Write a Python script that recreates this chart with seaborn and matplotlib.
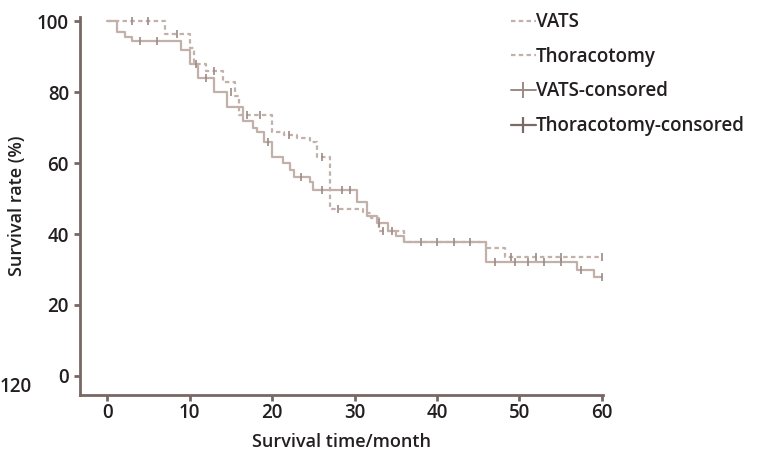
import numpy as np
import pandas as pd
import matplotlib
matplotlib.use("Agg")
import matplotlib.pyplot as plt
import seaborn as sns
from matplotlib.lines import Line2D

# ---- data ----
vats_time = [0, 7, 10, 10.5, 12, 14, 15.5, 16, 20, 21.5, 23, 24.6, 25.5, 27, 31, 32, 33, 36, 46, 48.2, 60]
vats_surv = [100, 96.5, 92.5, 88, 86, 83, 79, 73.5, 68.7, 68, 67, 66, 61.7, 47, 46, 44.5, 41, 37.7, 36, 33.5, 33.5]
thor_time = [0, 1.2, 2.2, 3, 9, 10, 11, 13, 14.5, 16.5, 17.7, 18.2, 19, 20, 21.3, 22.2, 22.6, 24.6, 25, 30.3, 31.5, 32.7, 34, 35, 36, 46, 57, 59, 60]
thor_surv = [100, 97, 95.5, 94.5, 92, 88, 84, 80, 76, 72, 70, 68.7, 66, 61.7, 60, 58, 56, 54.6, 52.5, 49, 45, 43, 41, 39.5, 37.7, 32, 30, 28, 28]
vats_cens_time = [3, 5, 8.5, 13, 17, 18.5, 22, 26, 28, 33.5, 34.5, 40, 44, 49, 52, 55, 60]
vats_cens_surv = [100, 100, 96.5, 86, 73.5, 73.5, 68, 61.7, 47, 41, 41, 37.7, 37.7, 33.5, 33.5, 33.5, 33.5]
thor_cens_time = [4, 6, 10.8, 12, 15, 19.5, 23.5, 26, 28.5, 29.5, 33, 38, 42, 47, 49.5, 51, 53, 55, 57.5, 60]
thor_cens_surv = [94.5, 94.5, 88, 84, 80, 66, 56, 52.5, 52.5, 52.5, 43, 37.7, 37.7, 32, 32, 32, 32, 32, 30, 28]

groups = ["VATS", "Thoracotomy"]
legend_labels = ["VATS", "Thoracotomy", "VATS-consored", "Thoracotomy-consored"]
x_ticks = [0, 10, 20, 30, 40, 50, 60]
y_ticks = [0, 20, 40, 60, 80, 100]

df = pd.concat([
    pd.DataFrame({"time": vats_time, "surv": vats_surv, "group": groups[0]}),
    pd.DataFrame({"time": thor_time, "surv": thor_surv, "group": groups[1]}),
])
cens = pd.concat([
    pd.DataFrame({"time": vats_cens_time, "surv": vats_cens_surv, "group": groups[0]}),
    pd.DataFrame({"time": thor_cens_time, "surv": thor_cens_surv, "group": groups[1]}),
])

sns.set_style("white")
plt.rcParams["font.family"] = ["Open Sans", "DejaVu Sans"]

line_col = "#c2b1aa"
cens_col = "#9c8a84"
spine_col = "#786864"
text_col = "#231f20"

fig = plt.figure(figsize=(7.62, 4.53), dpi=100)
ax = fig.add_axes([0.105, 0.128, 0.686, 0.834])

styles = {"VATS": (0, (2, 1.5)), "Thoracotomy": "-"}
for g in groups:
    sub = df[df.group == g]
    sns.lineplot(data=sub, x="time", y="surv", ax=ax, drawstyle="steps-post",
                 color=line_col, linewidth=1.6, linestyle=styles[g],
                 estimator=None, legend=False)
    cs = cens[cens.group == g]
    sns.scatterplot(data=cs, x="time", y="surv", ax=ax, marker="|", s=40,
                    color=cens_col, linewidth=1.2, legend=False, zorder=3)

ax.set_xlim(-3.3, 60.1)
ax.set_ylim(-5.4, 101.2)
ax.set_xticks(x_ticks)
ax.set_yticks(y_ticks)
ax.tick_params(axis="both", direction="out", length=4, width=2, color=spine_col,
               labelsize=13.5, labelcolor=text_col, left=True, bottom=True)
ax.tick_params(axis="y", pad=4)
ax.tick_params(axis="x", pad=2)
for lab in ax.get_xticklabels() + ax.get_yticklabels():
    lab.set_fontweight("semibold")
for s in ["top", "right"]:
    ax.spines[s].set_visible(False)
for s in ["left", "bottom"]:
    ax.spines[s].set_color(spine_col)
    ax.spines[s].set_linewidth(2)

ax.set_xlabel("Survival time/month", fontsize=13, fontweight="semibold", color=text_col, labelpad=7)
ax.set_ylabel("Survival rate (%)", fontsize=13, fontweight="semibold", color=text_col, labelpad=8)

handles = [
    Line2D([], [], color=line_col, linestyle=(0, (2, 1.5)), linewidth=1.6),
    Line2D([], [], color=line_col, linestyle=(0, (2, 1.5)), linewidth=1.6),
    Line2D([], [], color=cens_col, linestyle="-", linewidth=1.4, marker="|", markersize=12, markeredgewidth=1.4),
    Line2D([], [], color="#7a6a66", linestyle="-", linewidth=1.6, marker="|", markersize=12, markeredgewidth=1.6),
]
leg = fig.legend(handles, legend_labels, loc="upper left", bbox_to_anchor=(0.655, 1.0),
                 frameon=False, fontsize=13.5, handlelength=1.3, handletextpad=0.0,
                 labelspacing=0.78, borderaxespad=0.25)
for t in leg.get_texts():
    t.set_fontweight("semibold")
    t.set_color(text_col)

fig.text(0.0, 0.135, "120", fontsize=13.5, fontweight="semibold", color=text_col)

fig.savefig("out.png", dpi=100, facecolor="white")
